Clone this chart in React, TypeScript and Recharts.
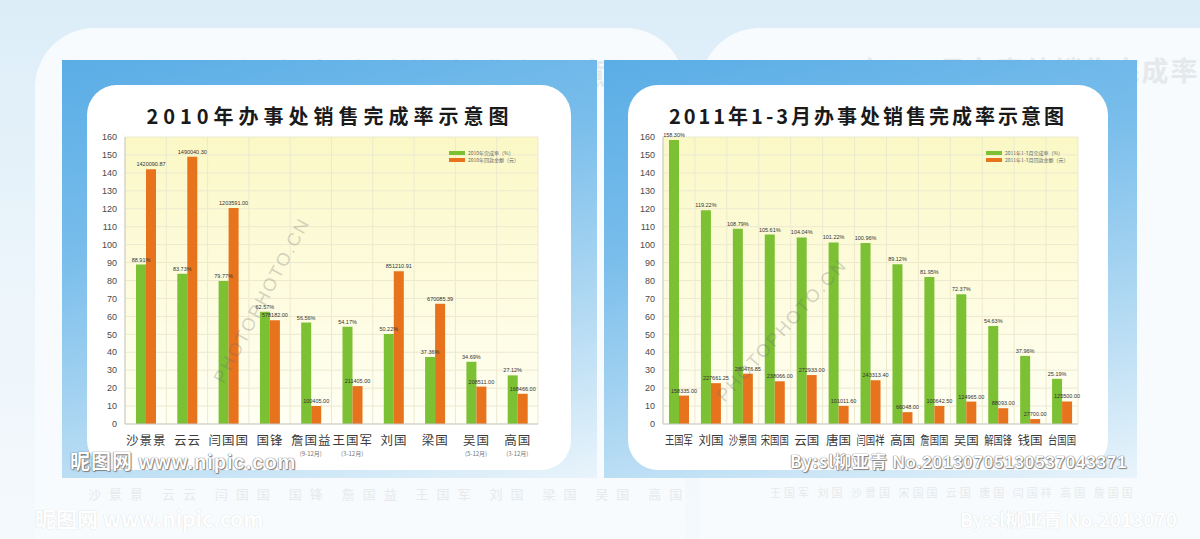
import React from 'react';
import { BarChart, Bar, XAxis, YAxis, CartesianGrid, LabelList } from 'recharts';

// 2010 chart
const names2010 = ['沙景景', '云云', '闫国国', '国锋', '詹国益', '王国军', '刘国', '梁国', '吴国', '高国'];
const notes2010 = ['', '', '', '', '(9-12月)', '(3-12月)', '', '', '(5-12月)', '(3-12月)'];
const rate2010 = [88.91, 83.73, 79.77, 62.57, 56.56, 54.17, 50.22, 37.36, 34.69, 27.12];
const money2010 = [1420090.87, 1490040.3, 1203591.0, 578182.0, 100405.0, 211405.0, 851210.91, 670085.39, 208511.0, 168466.0];

// 2011 Q1 chart
const names2011 = ['王国军', '刘国', '沙景国', '宋国国', '云国', '唐国', '闫国祥', '高国', '詹国国', '吴国', '解国锋', '钱国', '台国国'];
const rate2011 = [158.3, 119.22, 108.79, 105.61, 104.04, 101.22, 100.96, 89.12, 81.95, 72.37, 54.63, 37.96, 25.19];
const money2011 = [158335.0, 227661.25, 280476.85, 238066.0, 272933.0, 101011.6, 243313.4, 66048.0, 100642.5, 124965.0, 88093.0, 27700.0, 125500.0];

const yTicks = [0, 10, 20, 30, 40, 50, 60, 70, 80, 90, 100, 110, 120, 130, 140, 150, 160];

const GREEN = '#7cc034';
const ORANGE = '#e7731d';
const CJK = '"Noto Sans CJK SC", sans-serif';

function buildRows(names: string[], notes: string[], rate: number[], money: number[]) {
  return names.map((name, i) => ({
    name,
    note: notes[i] || '',
    rate: rate[i],
    rateLabel: rate[i].toFixed(2) + '%',
    money: money[i] / 10000,
    moneyLabel: money[i].toFixed(2)
  }));
}

const rows2010 = buildRows(names2010, notes2010, rate2010, money2010);
const rows2011 = buildRows(names2011, [], rate2011, money2011);

function CatTick({ x, y, payload, rows, narrow }: any) {
  const row = rows.find((r: any) => r.name === payload.value);
  const long = String(payload.value).length > 2;
  return (
    <g>
      {narrow ? (
        <text
          x={x}
          y={y + 13}
          textAnchor='middle'
          fontSize={12.5}
          fill='#3b3b3b'
          fontFamily={CJK}
          textLength={long ? 28 : undefined}
          lengthAdjust='spacingAndGlyphs'
        >
          {payload.value}
        </text>
      ) : (
        <text x={x + 0.5} y={y + 13} textAnchor='middle' fontSize={12.5} fill='#3b3b3b' fontFamily={CJK} letterSpacing={1}>
          {payload.value}
        </text>
      )}
      {row && row.note ? (
        <text x={x} y={y + 24} textAnchor='middle' fontSize={6} fill='#777' fontFamily={CJK}>
          {row.note}
        </text>
      ) : null}
    </g>
  );
}

function SalesChart({ rows, yWidth, narrow }: { rows: any[]; yWidth: number; narrow?: boolean }) {
  const n = rows.length;
  return (
    <BarChart width={470} height={334} data={rows} margin={{ top: 12, right: 12, bottom: 5, left: 0 }} barSize={10} barGap={0}>
      <defs>
        <linearGradient id={'plotBg' + n} x1='0' y1='0' x2='0' y2='1'>
          <stop offset='0%' stopColor='#fbf8c6' />
          <stop offset='100%' stopColor='#fffff4' />
        </linearGradient>
      </defs>
      <CartesianGrid
        fill={'url(#plotBg' + n + ')'}
        stroke='#ece9cf'
        verticalCoordinatesGenerator={({ offset }: any) =>
          Array.from({ length: n + 1 }, (_, i) => offset.left + (i * offset.width) / n)
        }
      />
      <XAxis
        dataKey='name'
        interval={0}
        height={30}
        tickLine={false}
        axisLine={{ stroke: '#c9c9c9' }}
        tick={<CatTick rows={rows} narrow={narrow} />}
      />
      <YAxis
        width={yWidth}
        domain={[0, 160]}
        ticks={yTicks}
        interval={0}
        tickLine={false}
        axisLine={{ stroke: '#c9c9c9' }}
        tick={{ fontSize: 9, fill: '#4a4a4a', fontFamily: 'Arial, sans-serif' }}
      />
      <Bar dataKey='rate' fill={GREEN} isAnimationActive={false}>
        <LabelList dataKey='rateLabel' position='top' offset={3} fontSize={5.5} fill='#333' fontFamily='Arial, sans-serif' />
      </Bar>
      <Bar dataKey='money' fill={ORANGE} isAnimationActive={false}>
        <LabelList dataKey='moneyLabel' position='top' offset={3} fontSize={5.5} fill='#333' fontFamily='Arial, sans-serif' />
      </Bar>
    </BarChart>
  );
}

function LegendBox({ left, top, items }: { left: number; top: number; items: { color: string; text: string }[] }) {
  return (
    <div style={{ position: 'absolute', left, top }}>
      {items.map((it) => (
        <div key={it.text} style={{ display: 'flex', alignItems: 'center', height: 7 }}>
          <div style={{ width: 16, height: 4, background: it.color, marginRight: 3 }} />
          <span style={{ fontSize: 5, color: '#666', fontFamily: CJK, lineHeight: '7px', whiteSpace: 'nowrap' }}>{it.text}</span>
        </div>
      ))}
    </div>
  );
}

const abs = (s: React.CSSProperties): React.CSSProperties => ({ position: 'absolute', ...s });

function Panel({ left, width, innerLeft, innerWidth }: { left: number; width: number; innerLeft: number; innerWidth: number }) {
  return (
    <div
      style={abs({
        left,
        top: 60,
        width,
        height: 418,
        background: 'linear-gradient(165deg, #5aade6 0%, #78bdeb 35%, #b3daf3 70%, #e9f4fb 100%)'
      })}
    >
      <div
        style={abs({
          left: innerLeft,
          top: 25,
          width: innerWidth,
          height: 385,
          background: '#ffffff',
          borderRadius: 30
        })}
      />
    </div>
  );
}

const outline = '0 0 1px #666, 0 0 1px #666, 1px 1px 1px #888';

export default function App() {
  return (
    <div
      style={abs({
        left: 0,
        top: 0,
        width: 1200,
        height: 539,
        overflow: 'hidden',
        background: 'linear-gradient(180deg, #dcedf8 0%, #eef6fb 60%, #f4f9fc 100%)'
      })}
    >
      {/* faded background copy */}
      <div style={abs({ left: 35, top: 28, width: 650, height: 560, borderRadius: 60, background: '#f7fbfd' })} />
      <div style={abs({ left: 700, top: 28, width: 560, height: 560, borderRadius: 60, background: '#f7fbfd' })} />
      <div style={abs({ left: 150, top: 50, fontSize: 30, color: '#e6e9eb', fontFamily: CJK, fontWeight: 700, letterSpacing: 4, whiteSpace: 'nowrap' })}>
        2010年办事处销售完成率示意图
      </div>
      <div style={abs({ left: 790, top: 50, fontSize: 27, color: '#e6e9eb', fontFamily: CJK, fontWeight: 700, letterSpacing: 2, whiteSpace: 'nowrap' })}>
        2011年1-3月办事处销售完成率
      </div>
      <div style={abs({ left: 88, top: 484, fontSize: 13, color: '#e7eaec', fontFamily: CJK, letterSpacing: 8, whiteSpace: 'nowrap' })}>
        沙景景 云云 闫国国 国锋 詹国益 王国军 刘国 梁国 吴国 高国
      </div>
      <div style={abs({ left: 770, top: 484, fontSize: 11, color: '#e7eaec', fontFamily: CJK, letterSpacing: 3, whiteSpace: 'nowrap' })}>
        王国军 刘国 沙景国 宋国国 云国 唐国 闫国祥 高国 詹国国
      </div>
      <div style={abs({ left: 35, top: 503, fontSize: 21, color: '#ffffff', textShadow: '0 0 1px #c9cdd0', fontFamily: CJK, fontWeight: 700, whiteSpace: 'nowrap' })}>
        昵图网 www.nipic.com
      </div>
      <div style={abs({ left: 960, top: 505, fontSize: 19, color: '#ffffff', textShadow: '0 0 1px #c9cdd0', fontFamily: CJK, fontWeight: 700, whiteSpace: 'nowrap' })}>
        By:sl柳亚青 No.2013070
      </div>

      <Panel left={62} width={535} innerLeft={25} innerWidth={484} />
      <Panel left={604} width={533} innerLeft={24} innerWidth={480} />

      <div style={abs({ left: 88, width: 484, top: 101, textAlign: 'center', fontSize: 20, fontWeight: 700, color: '#1a1a1a', fontFamily: CJK, letterSpacing: 5, whiteSpace: 'nowrap' })}>
        2010年办事处销售完成率示意图
      </div>
      <div style={abs({ left: 628, width: 480, top: 101, textAlign: 'center', fontSize: 20, fontWeight: 700, color: '#1a1a1a', fontFamily: CJK, letterSpacing: 3, whiteSpace: 'nowrap' })}>
        2011年1-3月办事处销售完成率示意图
      </div>

      <div style={abs({ left: 80, top: 125 })}>
        <SalesChart rows={rows2010} yWidth={45} />
      </div>
      <div style={abs({ left: 620, top: 125 })}>
        <SalesChart rows={rows2011} yWidth={43} narrow />
      </div>

      <LegendBox
        left={449}
        top={149}
        items={[
          { color: GREEN, text: '2010年完成率（%）' },
          { color: ORANGE, text: '2010年回款金额（元）' }
        ]}
      />
      <LegendBox
        left={986}
        top={149}
        items={[
          { color: GREEN, text: '2011年1-3月完成率（%）' },
          { color: ORANGE, text: '2011年1-3月回款金额（元）' }
        ]}
      />

      {/* watermarks */}
      <div style={abs({ left: 170, top: 290, fontSize: 18, color: 'rgba(110,110,110,0.3)', fontFamily: 'Arial, sans-serif', letterSpacing: 2, transform: 'rotate(-62deg)', whiteSpace: 'nowrap' })}>
        PHOTOPHOTO.CN
      </div>
      <div style={abs({ left: 690, top: 320, fontSize: 18, color: 'rgba(110,110,110,0.3)', fontFamily: 'Arial, sans-serif', letterSpacing: 2, transform: 'rotate(-48deg)', whiteSpace: 'nowrap' })}>
        PHOTOPHOTO.CN
      </div>
      <div style={abs({ left: 70, top: 446, fontSize: 20, color: '#ffffff', textShadow: outline, fontFamily: CJK, fontWeight: 700, whiteSpace: 'nowrap', letterSpacing: 1 })}>
        昵图网 <span style={{ fontFamily: 'Arial, sans-serif' }}>www.nipic.com</span>
      </div>
      <div style={abs({ left: 790, top: 448, fontSize: 17, color: '#ffffff', textShadow: outline, fontFamily: CJK, fontWeight: 700, whiteSpace: 'nowrap', letterSpacing: 0.8 })}>
        By:sl柳亚青 <span style={{ fontFamily: 'Arial, sans-serif' }}>No.20130705130537043371</span>
      </div>
    </div>
  );
}
